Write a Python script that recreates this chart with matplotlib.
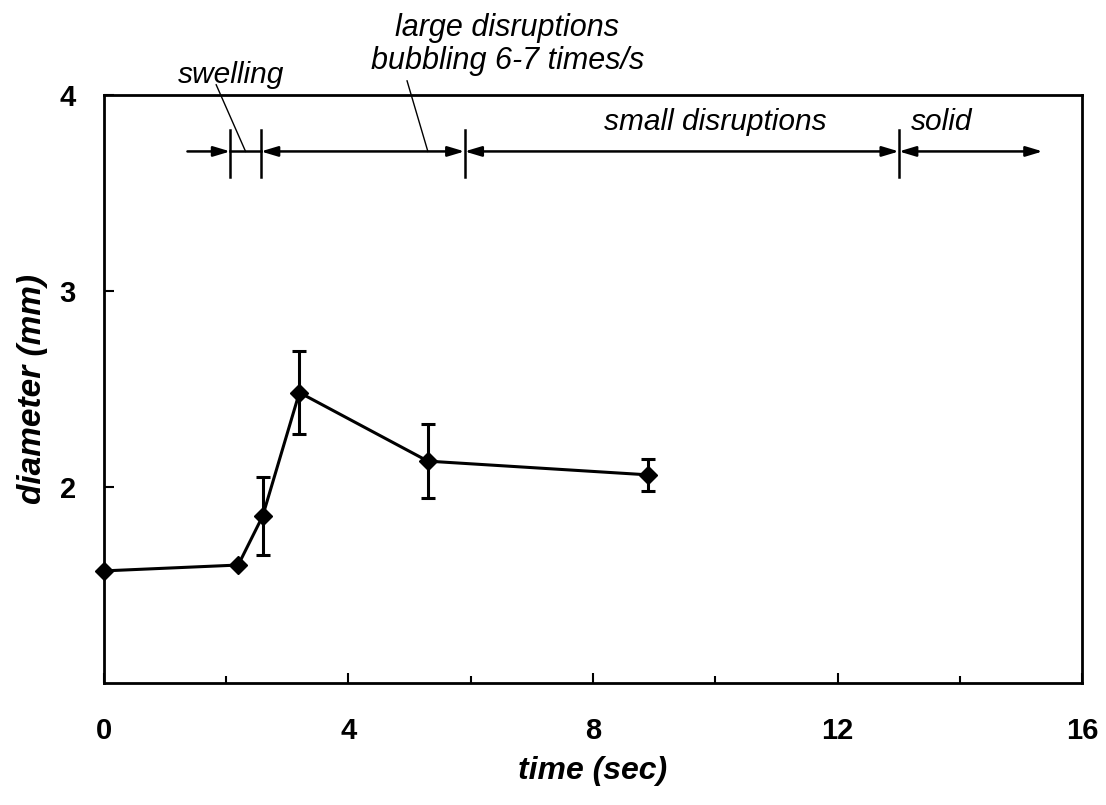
import matplotlib
matplotlib.use('Agg')
import matplotlib.pyplot as plt

# diameter vs time data
time_s = [0.0, 2.2, 2.6, 3.2, 5.3, 8.9]
diam_mm = [1.57, 1.60, 1.85, 2.48, 2.13, 2.06]
diam_err = [0.0, 0.0, 0.20, 0.21, 0.19, 0.08]

# stage boundaries (x) along the arrow line
arrow_start = 1.37
stage_marks = [2.07, 2.57, 5.9, 13.0]
arrow_end = 15.35
arrow_y = 3.71

plt.rcParams['font.family'] = ['Liberation Sans', 'DejaVu Sans']

fig = plt.figure(figsize=(11.06, 8.05), dpi=100)
ax = fig.add_axes([0.0937, 0.152, 0.885, 0.7305])

ax.errorbar(time_s, diam_mm, yerr=diam_err,
            color='black', lw=2.2, marker='D', markersize=9.5,
            elinewidth=2.2, capsize=5, capthick=2.2, clip_on=False, zorder=5)

ax.set_xlim(0, 16)
ax.set_ylim(1, 4)
ax.set_xticks([0, 4, 8, 12, 16])
ax.set_xticks([2, 6, 10, 14], minor=True)
ax.set_yticks([2, 3, 4])
ax.tick_params(axis='both', which='major', direction='in', length=7, width=1.5,
               labelsize=21)
ax.tick_params(axis='x', which='minor', direction='in', length=5, width=1.5)
ax.tick_params(axis='x', pad=25)
ax.tick_params(axis='y', pad=20)
for lab in ax.get_xticklabels() + ax.get_yticklabels():
    lab.set_fontweight('bold')
for s in ax.spines.values():
    s.set_linewidth(2)

ax.set_xlabel('time (sec)', fontsize=23, fontweight='bold', style='italic', labelpad=8)
ax.set_ylabel('diameter (mm)', fontsize=24, fontweight='bold', style='italic', labelpad=8)

# stage arrows
head = dict(color='black', lw=1.8, shrinkA=0, shrinkB=0)
ax.annotate('', xy=(stage_marks[0], arrow_y), xytext=(arrow_start, arrow_y),
            arrowprops=dict(arrowstyle='-|>,head_length=1.0,head_width=0.3', **head))
ax.plot([stage_marks[0], stage_marks[1]], [arrow_y, arrow_y], color='black', lw=1.8)
ends = stage_marks[1:] + [arrow_end]
for a, b in zip(ends[:-1], ends[1:]):
    ax.annotate('', xy=(b, arrow_y), xytext=(a, arrow_y),
                arrowprops=dict(arrowstyle='<|-|>,head_length=1.0,head_width=0.3', **head))
for m in stage_marks:
    ax.plot([m, m], [3.58, 3.82], color='black', lw=1.8)

# stage labels
fs = 21.5
ax.text(2.09, 4.10, 'swelling', fontsize=fs, style='italic', ha='center', va='center')
ax.text(6.6, 4.255, 'large disruptions\nbubbling 6-7 times/s', fontsize=22,
        style='italic', ha='center', va='center', linespacing=1.15)
ax.text(10.0, 3.86, 'small disruptions', fontsize=fs, style='italic', ha='center', va='center')
ax.text(13.7, 3.86, 'solid', fontsize=fs, style='italic', ha='center', va='center')

# leader lines
ax.plot([1.84, 2.32], [4.05, 3.71], color='black', lw=1, clip_on=False)
ax.plot([4.96, 5.30], [4.07, 3.71], color='black', lw=1, clip_on=False)

fig.savefig('out.png', dpi=100)
